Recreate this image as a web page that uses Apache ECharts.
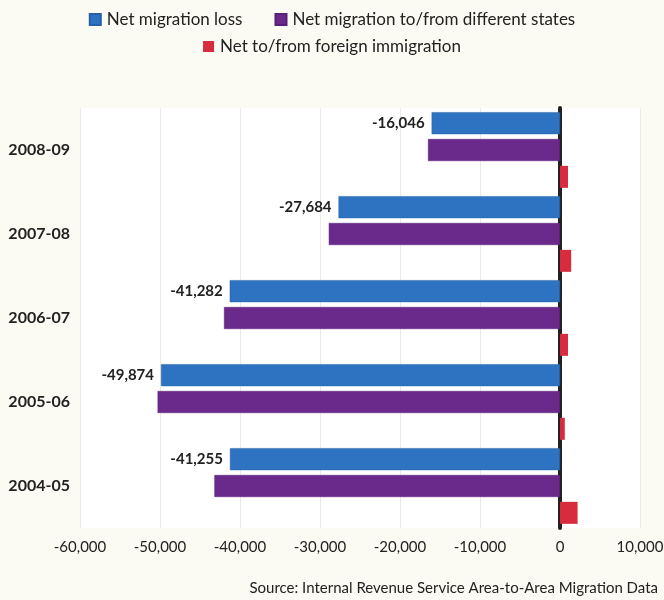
<!DOCTYPE html>
<html>
<head>
<meta charset="utf-8">
<script src="https://cdn.jsdelivr.net/npm/echarts@6/dist/echarts.min.js"></script>
<style>
html,body{margin:0;padding:0;background:#fbfaf3;}
#chart{width:664px;height:600px;}
</style>
</head>
<body>
<div id="chart"></div>
<script>
const categories = ['2004-05', '2005-06', '2006-07', '2007-08', '2008-09'];
const netLoss = [-41255, -49874, -41282, -27684, -16046];
const statesNet = [-43200, -50300, -42000, -28900, -16500];
const foreignNet = [2200, 600, 1000, 1400, 1000];
const xTicks = [-60000, -50000, -40000, -30000, -20000, -10000, 0, 10000];
const seriesNames = ['Net migration loss', 'Net migration to/from different states', 'Net to/from foreign immigration'];

const fmt = v => (v < 0 ? '-' : '') + Math.abs(v).toLocaleString('en-US');
const font = "Lato, 'Open Sans', sans-serif";

const chart = echarts.init(document.getElementById('chart'));
chart.setOption({
  backgroundColor: '#fbfaf3',
  animation: false,
  textStyle: { fontFamily: font },
  legend: [
    {
      data: [seriesNames[0], seriesNames[1]],
      top: 11, left: 'center', itemWidth: 11, itemHeight: 11, itemGap: 32,
      icon: 'rect', padding: 0,
      textStyle: { fontSize: 17, color: '#222', fontFamily: font, padding: [0, 0, 0, 1] }
    },
    {
      data: [seriesNames[2]],
      top: 38, left: 'center', itemWidth: 11, itemHeight: 11,
      icon: 'rect', padding: 0,
      textStyle: { fontSize: 17, color: '#222', fontFamily: font, padding: [0, 0, 0, 1] }
    }
  ],
  grid: {
    left: 80, right: 24, top: 108, bottom: 72,
    show: true, backgroundColor: '#ffffff', borderWidth: 0,
    containLabel: false, outerBoundsMode: 'none'
  },
  xAxis: {
    type: 'value', min: -60000, max: 10000, interval: 10000,
    axisLine: { show: false }, axisTick: { show: false },
    splitLine: { show: true, lineStyle: { color: '#ecebe4', width: 1 } },
    axisLabel: {
      margin: 12, fontSize: 15, color: '#222', fontFamily: font,
      formatter: v => xTicks.includes(v) ? fmt(v) : ''
    }
  },
  yAxis: {
    type: 'category', data: categories,
    axisLine: { show: true, onZero: true, lineStyle: { color: '#222', width: 4 } },
    axisTick: { show: false },
    axisLabel: { fontSize: 16, fontWeight: 'bold', color: '#222', margin: 10, fontFamily: font }
  },
  series: [
    {
      name: seriesNames[0], type: 'bar', data: netLoss,
      barWidth: 22, barGap: '22%',
      itemStyle: { color: '#2e72c2', borderColor: '#2462a8', borderWidth: 0.5 },
      label: {
        show: true, position: 'left', distance: 7,
        fontSize: 15, fontWeight: 'bold', color: '#222', fontFamily: font,
        formatter: p => fmt(p.value)
      },
      z: 2
    },
    {
      name: seriesNames[1], type: 'bar', data: statesNet,
      barWidth: 22, barGap: '22%',
      itemStyle: { color: '#6a2a8c', borderColor: '#5a2078', borderWidth: 0.5 },
      z: 2
    },
    {
      name: seriesNames[2], type: 'bar', data: foreignNet,
      barWidth: 22, barGap: '22%',
      itemStyle: { color: '#d62c3e' },
      z: 2
    }
  ],
  graphic: [
    {
      type: 'text', right: 6, top: 581,
      style: { text: 'Source: Internal Revenue Service Area-to-Area Migration Data',
        fontSize: 15, fill: '#222', fontFamily: font }
    }
  ]
});
</script>
</body>
</html>
